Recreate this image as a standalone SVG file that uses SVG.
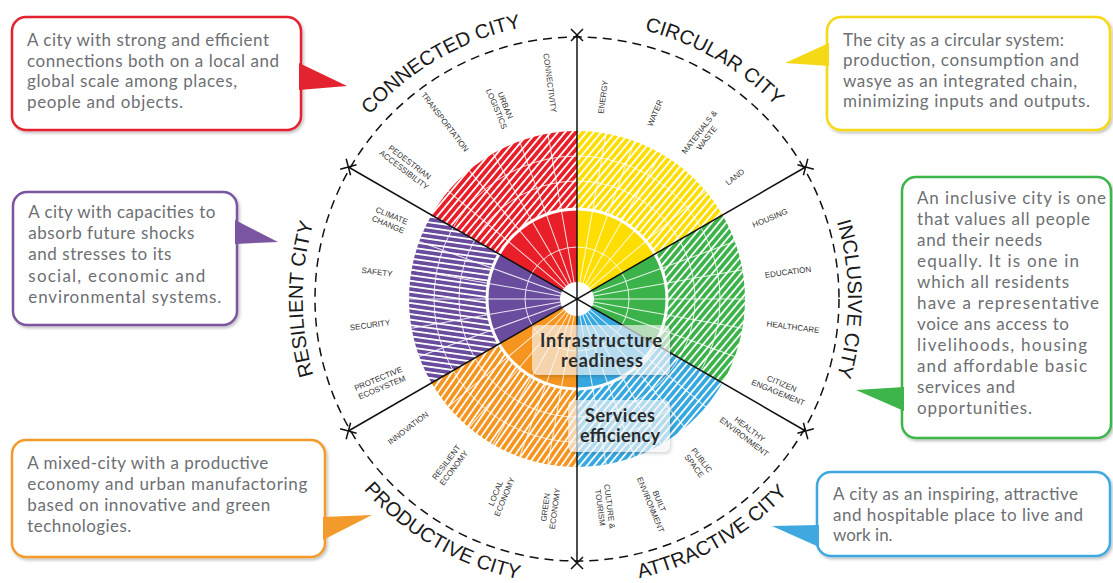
<svg xmlns="http://www.w3.org/2000/svg" width="1113" height="583" viewBox="0 0 1113 583">
<defs>
<filter id="sh" x="-10%" y="-10%" width="130%" height="130%"><feDropShadow dx="1.5" dy="2" stdDeviation="1.5" flood-color="#000" flood-opacity="0.25"/></filter>
<pattern id="hR" width="5.5" height="5.5" patternUnits="userSpaceOnUse" patternTransform="rotate(-50)"><rect width="5.5" height="5.5" fill="#e81e28"/><rect width="5.5" height="1.8" fill="#fff"/></pattern>
<pattern id="hY" width="5.5" height="5.5" patternUnits="userSpaceOnUse" patternTransform="rotate(-50)"><rect width="5.5" height="5.5" fill="#fede00"/><rect width="5.5" height="1.8" fill="#fff"/></pattern>
<pattern id="hG" width="5.5" height="5.5" patternUnits="userSpaceOnUse" patternTransform="rotate(-50)"><rect width="5.5" height="5.5" fill="#3cb24a"/><rect width="5.5" height="1.8" fill="#fff"/></pattern>
<pattern id="hB" width="5.5" height="5.5" patternUnits="userSpaceOnUse" patternTransform="rotate(-50)"><rect width="5.5" height="5.5" fill="#36a8e0"/><rect width="5.5" height="1.8" fill="#fff"/></pattern>
<pattern id="hO" width="5.5" height="5.5" patternUnits="userSpaceOnUse" patternTransform="rotate(-55)"><rect width="5.5" height="5.5" fill="#f5941e"/><rect width="5.5" height="1.8" fill="#fff"/></pattern>
<pattern id="hP" width="5.5" height="5.5" patternUnits="userSpaceOnUse" patternTransform="rotate(8)"><rect width="5.5" height="5.5" fill="#6a4c9e"/><rect width="5.5" height="1.8" fill="#fff"/></pattern>
<line id="rad" x1="594" y1="299" x2="745" y2="299"/>
<path id="pConn" d="M316.7,204.3 A277,277 0 0 1 625.1,26.2"/>
<path id="pCirc" d="M528.9,26.2 A277,277 0 0 1 837.3,204.3"/>
<path id="pIncl" d="M784.6,124.7 A271,271 0 0 1 784.6,473.3"/>
<path id="pResi" d="M366.9,475.3 A274,274 0 0 1 366.9,122.7"/>
<path id="pProd" d="M308.2,396.8 A286,286 0 0 0 626.7,580.7"/>
<path id="pAttr" d="M527.3,580.7 A286,286 0 0 0 845.8,396.8"/>
</defs>
<style>
.box{fill:#fff;stroke-width:2.5;filter:url(#sh)}
.bt{font-family:Lato,"Open Sans",sans-serif;font-size:17px;fill:#6d6f73}
.lbl{font-family:"Liberation Sans",Arial,sans-serif;font-size:8px;fill:#333;text-anchor:middle}
.ttl{font-family:"Liberation Sans",Arial,sans-serif;font-size:20px;fill:#1a1a1a;text-anchor:middle}
.grid{stroke:#fff;stroke-width:1;fill:none;opacity:.85}
.bl{stroke:#111;stroke-width:1.5;fill:none}
.ctr{font-family:Lato,sans-serif;font-weight:700;font-size:18px;fill:#2b2b2b;text-anchor:middle}
.cb{fill:#fff;fill-opacity:.6;filter:url(#sh)}
</style>
<rect width="1113" height="583" fill="#fff"/>

<g id="wheel">
<path d="M577,299 L722.49,215 A168,168 0 0 0 577,131 Z" fill="url(#hY)"/>
<path d="M577,299 L577,131 A168,168 0 0 0 431.51,215 Z" fill="url(#hR)"/>
<path d="M577,299 L431.51,215 A168,168 0 0 0 431.51,383 Z" fill="url(#hP)"/>
<path d="M577,299 L431.51,383 A168,168 0 0 0 577,467 Z" fill="url(#hO)"/>
<path d="M577,299 L577,467 A168,168 0 0 0 722.49,383 Z" fill="url(#hB)"/>
<path d="M577,299 L722.49,383 A168,168 0 0 0 722.49,215 Z" fill="url(#hG)"/>
<path d="M577,299 L654.94,254 A90,90 0 0 0 577,209 Z" fill="#fede00"/>
<path d="M577,299 L577,209 A90,90 0 0 0 499.06,254 Z" fill="#e81e28"/>
<path d="M577,299 L499.06,254 A90,90 0 0 0 499.06,344 Z" fill="#6a4c9e"/>
<path d="M577,299 L499.06,344 A90,90 0 0 0 577,389 Z" fill="#f5941e"/>
<path d="M577,299 L577,389 A90,90 0 0 0 654.94,344 Z" fill="#36a8e0"/>
<path d="M577,299 L654.94,344 A90,90 0 0 0 654.94,254 Z" fill="#3cb24a"/>
<g class="grid">
<circle cx="577" cy="299" r="52"/>
<circle cx="577" cy="299" r="118"/>
<circle cx="577" cy="299" r="143"/>
<use href="#rad"/>
<use href="#rad" transform="rotate(-10 577 299)"/>
<use href="#rad" transform="rotate(-20 577 299)"/>
<use href="#rad" transform="rotate(-40 577 299)"/>
<use href="#rad" transform="rotate(-50 577 299)"/>
<use href="#rad" transform="rotate(-60 577 299)"/>
<use href="#rad" transform="rotate(-70 577 299)"/>
<use href="#rad" transform="rotate(-80 577 299)"/>
<use href="#rad" transform="rotate(-100 577 299)"/>
<use href="#rad" transform="rotate(-110 577 299)"/>
<use href="#rad" transform="rotate(-120 577 299)"/>
<use href="#rad" transform="rotate(-130 577 299)"/>
<use href="#rad" transform="rotate(-140 577 299)"/>
<use href="#rad" transform="rotate(-160 577 299)"/>
<use href="#rad" transform="rotate(-170 577 299)"/>
<use href="#rad" transform="rotate(-180 577 299)"/>
<use href="#rad" transform="rotate(-190 577 299)"/>
<use href="#rad" transform="rotate(-200 577 299)"/>
<use href="#rad" transform="rotate(-220 577 299)"/>
<use href="#rad" transform="rotate(-230 577 299)"/>
<use href="#rad" transform="rotate(-240 577 299)"/>
<use href="#rad" transform="rotate(-250 577 299)"/>
<use href="#rad" transform="rotate(-260 577 299)"/>
<use href="#rad" transform="rotate(-280 577 299)"/>
<use href="#rad" transform="rotate(-290 577 299)"/>
<use href="#rad" transform="rotate(-300 577 299)"/>
<use href="#rad" transform="rotate(-310 577 299)"/>
<use href="#rad" transform="rotate(-320 577 299)"/>
<use href="#rad" transform="rotate(-340 577 299)"/>
<use href="#rad" transform="rotate(-350 577 299)"/>
</g>
<circle cx="577" cy="299" r="90" fill="none" stroke="#fff" stroke-width="3"/>
<circle cx="577" cy="299" r="17" fill="#fff"/>
</g>

<g id="connectors">
<circle cx="577" cy="299" r="262" class="bl" stroke-dasharray="9 6"/>
<line class="bl" x1="313" y1="299" x2="841" y2="299" transform="rotate(-30 577 299)"/>
<line class="bl" x1="313" y1="299" x2="841" y2="299" transform="rotate(-90 577 299)"/>
<line class="bl" x1="313" y1="299" x2="841" y2="299" transform="rotate(-150 577 299)"/>
<g class="bl">
<path d="M835,293 L847,305 M835,305 L847,293" transform="rotate(-30 577 299)"/>
<path d="M835,293 L847,305 M835,305 L847,293" transform="rotate(-90 577 299)"/>
<path d="M835,293 L847,305 M835,305 L847,293" transform="rotate(-150 577 299)"/>
<path d="M835,293 L847,305 M835,305 L847,293" transform="rotate(-210 577 299)"/>
<path d="M835,293 L847,305 M835,305 L847,293" transform="rotate(-270 577 299)"/>
<path d="M835,293 L847,305 M835,305 L847,293" transform="rotate(-330 577 299)"/>
</g>
</g>

<g id="ring-labels">
<text class="lbl" transform="translate(550,83) rotate(82.5)" dy="2.8">CONNECTIVITY</text>
<text class="lbl" transform="translate(501,107) rotate(67.5)"><tspan x="0" y="-1.9">URBAN</tspan><tspan x="0" y="7.6">LOGISTICS</tspan></text>
<text class="lbl" transform="translate(445,122) rotate(52.5)" dy="2.8">TRANSPORTATION</text>
<text class="lbl" transform="translate(407,166) rotate(37.5)"><tspan x="0" y="-1.9">PEDESTRIAN</tspan><tspan x="0" y="7.6">ACCESSIBILITY</tspan></text>
<text class="lbl" transform="translate(603,97) rotate(-82.5)" dy="2.8">ENERGY</text>
<text class="lbl" transform="translate(655,113) rotate(-67.5)" dy="2.8">WATER</text>
<text class="lbl" transform="translate(703,135) rotate(-52.5)"><tspan x="0" y="-1.9">MATERIALS &amp;</tspan><tspan x="0" y="7.6">WASTE</tspan></text>
<text class="lbl" transform="translate(735,177) rotate(-37.5)" dy="2.8">LAND</text>
<text class="lbl" transform="translate(770,218) rotate(-22.5)" dy="2.8">HOUSING</text>
<text class="lbl" transform="translate(788,272) rotate(-7.5)" dy="2.8">EDUCATION</text>
<text class="lbl" transform="translate(793,327) rotate(7.5)" dy="2.8">HEALTHCARE</text>
<text class="lbl" transform="translate(780,388) rotate(22.5)"><tspan x="0" y="-1.9">CITIZEN</tspan><tspan x="0" y="7.6">ENGAGEMENT</tspan></text>
<text class="lbl" transform="translate(747,433) rotate(37.5)"><tspan x="0" y="-1.9">HEALTHY</tspan><tspan x="0" y="7.6">ENVIRONMENT</tspan></text>
<text class="lbl" transform="translate(698,463) rotate(52.5)"><tspan x="0" y="-1.9">PUBLIC</tspan><tspan x="0" y="7.6">SPACE</tspan></text>
<text class="lbl" transform="translate(655,503) rotate(67.5)"><tspan x="0" y="-1.9">BUILT</tspan><tspan x="0" y="7.6">ENVIRONMENT</tspan></text>
<text class="lbl" transform="translate(605,507) rotate(82.5)"><tspan x="0" y="-1.9">CULTURE &amp;</tspan><tspan x="0" y="7.6">TOURISM</tspan></text>
<text class="lbl" transform="translate(550,508) rotate(-82.5)"><tspan x="0" y="-1.9">GREEN</tspan><tspan x="0" y="7.6">ECONOMY</tspan></text>
<text class="lbl" transform="translate(500,495) rotate(-67.5)"><tspan x="0" y="-1.9">LOCAL</tspan><tspan x="0" y="7.6">ECONOMY</tspan></text>
<text class="lbl" transform="translate(450,465) rotate(-52.5)"><tspan x="0" y="-1.9">RESILIENT</tspan><tspan x="0" y="7.6">ECONOMY</tspan></text>
<text class="lbl" transform="translate(408,428) rotate(-37.5)" dy="2.8">INNOVATION</text>
<text class="lbl" transform="translate(390,220) rotate(22.5)"><tspan x="0" y="-1.9">CLIMATE</tspan><tspan x="0" y="7.6">CHANGE</tspan></text>
<text class="lbl" transform="translate(377,272) rotate(7.5)" dy="2.8">SAFETY</text>
<text class="lbl" transform="translate(370,325) rotate(-7.5)" dy="2.8">SECURITY</text>
<text class="lbl" transform="translate(380,383) rotate(-22.5)"><tspan x="0" y="-1.9">PROTECTIVE</tspan><tspan x="0" y="7.6">ECOSYSTEM</tspan></text>
</g>

<g id="titles">
<text class="ttl"><textPath href="#pConn" startOffset="50%">CONNECTED CITY</textPath></text>
<text class="ttl"><textPath href="#pCirc" startOffset="50%">CIRCULAR CITY</textPath></text>
<text class="ttl" font-size="21"><textPath href="#pIncl" startOffset="50%">INCLUSIVE CITY</textPath></text>
<text class="ttl" font-size="21"><textPath href="#pResi" startOffset="50%">RESILIENT CITY</textPath></text>
<text class="ttl"><textPath href="#pProd" startOffset="50%">PRODUCTIVE CITY</textPath></text>
<text class="ttl"><textPath href="#pAttr" startOffset="50%">ATTRACTIVE CITY</textPath></text>
</g>

<g id="center-infrastructure">
<rect class="cb" x="532" y="325" width="138" height="50" rx="6"/>
<text class="ctr" x="601" y="347" textLength="122">Infrastructure</text>
<text class="ctr" x="602" y="367" textLength="82">readiness</text>
</g>
<g id="center-services">
<rect class="cb" x="568" y="400" width="102" height="52" rx="6"/>
<text class="ctr" x="620" y="422" textLength="70">Services</text>
<text class="ctr" x="620" y="442" textLength="80">efficiency</text>
</g>

<g id="callout-connected">
<rect class="box" x="12" y="17" width="289" height="113" rx="14" stroke="#e3232f"/>
<polygon points="299,63 347,86 299,90" fill="#e3232f"/>
<text class="bt" x="27" y="46" textLength="242">A city with strong and efficient</text>
<text class="bt" x="27" y="66.5" textLength="252">connections both on a local and</text>
<text class="bt" x="27" y="87" textLength="210">global scale among places,</text>
<text class="bt" x="27" y="107.5" textLength="156">people and objects.</text>
</g>

<g id="callout-circular">
<rect class="box" x="827" y="17" width="283" height="113" rx="14" stroke="#f5d816"/>
<polygon points="829,43 785,63 829,66" fill="#f5d816"/>
<text class="bt" x="843" y="45.7" textLength="221">The city as a circular system:</text>
<text class="bt" x="843" y="66" textLength="236">production, consumption and</text>
<text class="bt" x="843" y="86.7" textLength="234">wasye as an integrated chain,</text>
<text class="bt" x="843" y="107" textLength="247">minimizing inputs and outputs.</text>
</g>

<g id="callout-resilient">
<rect class="box" x="13" y="192" width="224" height="133" rx="14" stroke="#7b559f"/>
<polygon points="235,220 278,242 235,244" fill="#7b559f"/>
<text class="bt" x="28.3" y="218" textLength="187">A city with capacities to</text>
<text class="bt" x="28.3" y="239.2" textLength="166">absorb future shocks</text>
<text class="bt" x="28.3" y="260.4" textLength="143">and stresses to its</text>
<text class="bt" x="28.3" y="281.6" textLength="177">social, economic and</text>
<text class="bt" x="28.3" y="302.8" textLength="193">environmental systems.</text>
</g>

<g id="callout-inclusive">
<rect class="box" x="902" y="177" width="209" height="261" rx="14" stroke="#3db54b"/>
<polygon points="904,387 856,390 904,411" fill="#3db54b"/>
<text class="bt" x="917" y="204" textLength="189">An inclusive city is one</text>
<text class="bt" x="917" y="225" textLength="173">that values all people</text>
<text class="bt" x="917" y="246" textLength="125">and their needs</text>
<text class="bt" x="917" y="267" textLength="162">equally. It is one in</text>
<text class="bt" x="917" y="288" textLength="152">which all residents</text>
<text class="bt" x="917" y="309" textLength="182">have a representative</text>
<text class="bt" x="917" y="330" textLength="152">voice ans access to</text>
<text class="bt" x="917" y="351" textLength="170">livelihoods, housing</text>
<text class="bt" x="917" y="372" textLength="170">and affordable basic</text>
<text class="bt" x="917" y="393" textLength="98">services and</text>
<text class="bt" x="917" y="414" textLength="115">opportunities.</text>
</g>

<g id="callout-productive">
<rect class="box" x="12" y="440" width="313" height="117" rx="14" stroke="#f39a2c"/>
<polygon points="323,517 372,515 323,540" fill="#f39a2c"/>
<text class="bt" x="27.3" y="469" textLength="241">A mixed-city with a productive</text>
<text class="bt" x="27.3" y="490" textLength="280">economy and urban manufactoring</text>
<text class="bt" x="27.3" y="511" textLength="243">based on innovative and green</text>
<text class="bt" x="27.3" y="532" textLength="104">technologies.</text>
</g>

<g id="callout-attractive">
<rect class="box" x="817" y="472" width="293" height="84" rx="14" stroke="#3fa8de"/>
<polygon points="819,525 772,526 819,547" fill="#3fa8de"/>
<text class="bt" x="833" y="500" textLength="245">A city as an inspiring, attractive</text>
<text class="bt" x="833" y="521" textLength="250">and hospitable place to live and</text>
<text class="bt" x="833" y="541">work in.</text>
</g>
</svg>
